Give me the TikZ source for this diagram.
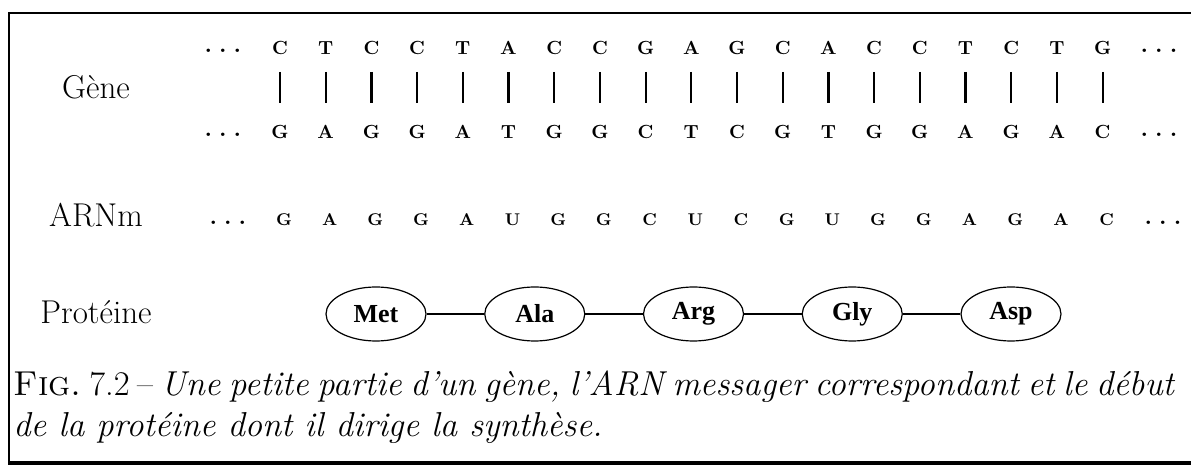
\documentclass[tikz,border=0pt]{standalone}
\usepackage{fontspec}
\newfontfamily\aafont{Liberation Serif}
\usetikzlibrary{shapes.geometric,positioning}
\newcommand\etcdots{.\hspace{3.5pt}.\hspace{3.5pt}.}
\begin{document}
\begin{tikzpicture}[x=0.5pt,y=-0.5pt,
  base/.style={font=\fontsize{9.5}{10}\selectfont\bfseries,inner sep=0pt},
  rnabase/.style={font=\fontsize{8.5}{10}\selectfont\bfseries,inner sep=0pt},
  more/.style={font=\fontsize{12}{14}\selectfont\bfseries,inner sep=0pt},
  pair/.style={line width=1.1pt,shorten <=12pt,shorten >=14.5pt},
  amino/.style={draw,ellipse,line width=0.6pt,minimum width=50pt,minimum height=27pt,inner sep=0pt,font=\aafont\fontsize{13}{14}\selectfont\bfseries},
  bond/.style={line width=1.2pt},
  rowlab/.style={font=\fontsize{16.5}{19}\selectfont}]
\useasboundingbox (0,0) rectangle (1191,470);
\draw[line width=1pt] (1191,13)--(9,13)--(9,463);\draw[line width=1.6pt] (8,463)--(1191,463);
\node[rowlab] (gene) at (96,87) {Gène};\node[rowlab] (arnm) at (96,215) {ARNm};\node[rowlab] (prot) at (96,312) {Protéine};
\foreach \b [count=\i from 0] in {C,T,C,C,T,A,C,C,G,A,G,C,A,C,C,T,C,T,G} \node[base] (t\i) at (280+45.7*\i,48) {\b};
\foreach \b [count=\i from 0] in {G,A,G,G,A,T,G,G,C,T,C,G,T,G,G,A,G,A,C} \node[base] (b\i) at (280+45.7*\i,132) {\b};
\foreach \b [count=\i from 0] in {G,A,G,G,A,U,G,G,C,U,C,G,U,G,G,A,G,A,C} \node[rnabase] (m\i) at (284+45.7*\i,220) {\b};
\node[more] (tl) at (223,51) {\etcdots};\node[more] (tr) at (1159,51) {\etcdots};
\node[more] (bl) at (223,135) {\etcdots};\node[more] (br) at (1159,135) {\etcdots};
\node[more] (ml) at (228,223) {\etcdots};\node[more] (mr) at (1163,223) {\etcdots};
\foreach \i in {0,...,18} \draw[pair] (t\i.center)--(b\i.center);
\foreach \n/\t [count=\k from 0] in {met/Met,ala/Ala,arg/Arg,gly/Gly,asp/Asp} \node[amino] (\n) at (376+158.75*\k,314) {\t};
\foreach \a/\c in {met/ala,ala/arg,arg/gly,gly/asp} \draw[bond] (\a)--(\c);
\node[anchor=base west,inner sep=0pt] (cap1) at (13,396) {\fontsize{17.3}{20}\selectfont\makebox[581pt][s]{\textsc{Fig.}~7.2 -- \textit{Une petite partie d'un gène, l'ARN messager correspondant et le début}}};
\node[anchor=base west,inner sep=0pt] (cap2) at (13,437) {\fontsize{17.3}{20}\selectfont\textit{de la protéine dont il dirige la synthèse.}};
\end{tikzpicture}
\end{document}
